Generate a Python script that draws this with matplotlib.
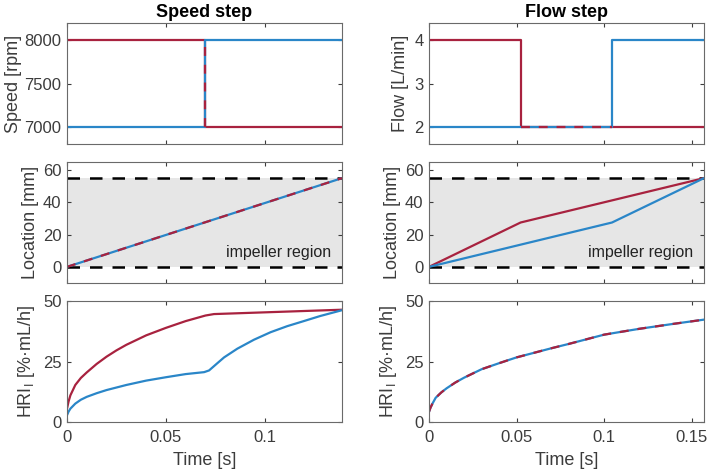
import matplotlib
matplotlib.use('Agg')
import matplotlib.pyplot as plt

plt.rcParams['font.family'] = ['Liberation Sans', 'DejaVu Sans']
plt.rcParams['mathtext.fontset'] = 'custom'
plt.rcParams['mathtext.rm'] = 'Liberation Sans'

ROUGE = '#A8223F'
BLEU = '#2A86C8'
GRIS = '#3c3c3c'

# ---- Speed step ----
t_fin_v = 0.139
t_saut_v = 0.07
vit_rouge = [8000, 7000]
vit_bleu = [7000, 8000]

loc_t_v = [0, t_fin_v]
loc_v = [0, 55]

hri_t_rouge_v = [0, 0.0008, 0.0017, 0.0042, 0.007, 0.01, 0.015, 0.02, 0.025, 0.03, 0.04,
                 0.05, 0.06, 0.07, 0.0743, 0.139]
hri_rouge_v = [5.5, 8.5, 11, 15.3, 18.2, 20.5, 24.0, 27, 29.6, 31.9, 35.8,
               38.9, 41.7, 44.0, 44.6, 46.4]
hri_t_bleu_v = [0, 0.0008, 0.0017, 0.0042, 0.007, 0.01, 0.015, 0.02, 0.03, 0.04, 0.05, 0.06,
                0.0693, 0.0718, 0.076, 0.0794, 0.0861, 0.0945, 0.1029, 0.1113, 0.1197,
                0.128, 0.139]
hri_bleu_v = [2.8, 4.3, 5.5, 7.6, 9.2, 10.4, 11.9, 13.2, 15.3, 17.1, 18.5, 19.8,
              20.6, 21.3, 24.3, 26.7, 30.3, 34.0, 37.1, 39.6, 41.7, 43.8, 46.2]

# ---- Flow step ----
t_fin_d = 0.157
t_rouge_d = [0, 0.0523, t_fin_d]
t_bleu_d = [0, 0.1045, t_fin_d]
debit_rouge = [4, 2, 2]
debit_bleu = [2, 4, 4]
loc_rouge_d = [0, 27.5, 55]
loc_bleu_d = [0, 27.5, 55]

hri_t_d = [0, 0.0009, 0.0019, 0.0038, 0.007, 0.01, 0.015, 0.02, 0.03, 0.04, 0.05, 0.06,
           0.07, 0.08, 0.1, 0.12, 0.14, 0.157]
hri_d = [4.2, 6.0, 7.5, 10, 12.2, 13.9, 16.3, 18.3, 21.8, 24.3, 26.7, 28.6,
         30.5, 32.3, 36.1, 38.5, 40.6, 42.3]

####################################################################################

fig = plt.figure(figsize=(7.09, 4.76), dpi=100)

gauches = [67/709, 429/709]
largeur = 275/709
bas = [1-144/476, 1-283/476, 1-422/476]
hauteur = 121/476

def styler(ax):
	ax.tick_params(direction='in', top=True, right=True, length=3, width=0.8,
	               colors=GRIS, labelsize=12, pad=4)
	ax.tick_params(axis='x', pad=6)
	for s in ax.spines.values():
		s.set_color('#6a6a6a')
		s.set_linewidth(0.8)

axs = [[fig.add_axes([g, b, largeur, hauteur]) for g in gauches] for b in bas]
lw = 1.6
FS = 13

#	Speed
ax = axs[0][0]
ax.step([0, t_saut_v, t_fin_v], vit_rouge + vit_rouge[-1:], where='post', color=ROUGE, lw=lw)
ax.step([0, t_saut_v, t_fin_v], vit_bleu + vit_bleu[-1:], where='post', color=BLEU, lw=lw)
ax.plot([t_saut_v, t_saut_v], vit_bleu, color=ROUGE, lw=lw, dashes=(4, 4))
ax.set_ylim(6800, 8200)
ax.set_yticks([7000, 7500, 8000])
ax.set_ylabel('Speed [rpm]', fontsize=FS, color=GRIS, labelpad=2)
ax.set_title('Speed step', fontsize=FS, fontweight='bold', pad=4)

#	Flow
ax = axs[0][1]
ax.step(t_rouge_d, debit_rouge, where='post', color=ROUGE, lw=lw)
ax.step(t_bleu_d, debit_bleu, where='post', color=BLEU, lw=lw)
ax.plot([t_rouge_d[1], t_bleu_d[1]], [2, 2], color=ROUGE, lw=lw, dashes=(4, 4))
ax.set_ylim(1.6, 4.4)
ax.set_yticks([2, 3, 4])
ax.set_ylabel('Flow [L/min]', fontsize=FS, color=GRIS, labelpad=4)
ax.set_title('Flow step', fontsize=FS, fontweight='bold', pad=4)

#	Location
for j, t_fin in enumerate([t_fin_v, t_fin_d]):
	ax = axs[1][j]
	ax.axhspan(0, 55, color='#e6e6e6', lw=0)
	ax.axhline(0, color='k', lw=1.8, dashes=(5, 4))
	ax.axhline(55, color='k', lw=1.8, dashes=(5, 4))
	ax.set_ylim(-10, 65)
	ax.set_yticks([0, 20, 40, 60])
	ax.set_ylabel('Location [mm]', fontsize=FS, color=GRIS, labelpad=3)
	ax.text(0.96*t_fin, 9, 'impeller region', ha='right', va='center', fontsize=11.5, color='#222222')

axs[1][0].plot(loc_t_v, loc_v, color=BLEU, lw=lw)
axs[1][0].plot(loc_t_v, loc_v, color=ROUGE, lw=lw, dashes=(4, 4))
axs[1][1].plot(t_rouge_d, loc_rouge_d, color=ROUGE, lw=lw)
axs[1][1].plot(t_bleu_d, loc_bleu_d, color=BLEU, lw=lw)

#	HRI
ax = axs[2][0]
ax.plot(hri_t_rouge_v, hri_rouge_v, color=ROUGE, lw=lw)
ax.plot(hri_t_bleu_v, hri_bleu_v, color=BLEU, lw=lw)
ax = axs[2][1]
ax.plot(hri_t_d, hri_d, color=BLEU, lw=lw)
ax.plot(hri_t_d, hri_d, color=ROUGE, lw=lw, dashes=(4, 4))
for j in range(2):
	ax = axs[2][j]
	ax.set_ylim(0, 50)
	ax.set_yticks([0, 25, 50])
	ax.set_ylabel('HRI$_\\mathregular{I}$ [%·mL/h]', fontsize=FS, color=GRIS, labelpad=4)
	ax.set_xlabel('Time [s]', fontsize=FS, color=GRIS, labelpad=5)

for i in range(3):
	axs[i][0].set_xlim(0, t_fin_v)
	axs[i][0].set_xticks([0, 0.05, 0.1])
	axs[i][1].set_xlim(0, t_fin_d)
	axs[i][1].set_xticks([0, 0.05, 0.1, 0.15])
	for j in range(2):
		styler(axs[i][j])
		if i < 2:
			axs[i][j].set_xticklabels([])
		else:
			axs[i][j].set_xticklabels(['0', '0.05', '0.1', '0.15'][:len(axs[i][j].get_xticks())])

fig.savefig('out.png', dpi=100)
